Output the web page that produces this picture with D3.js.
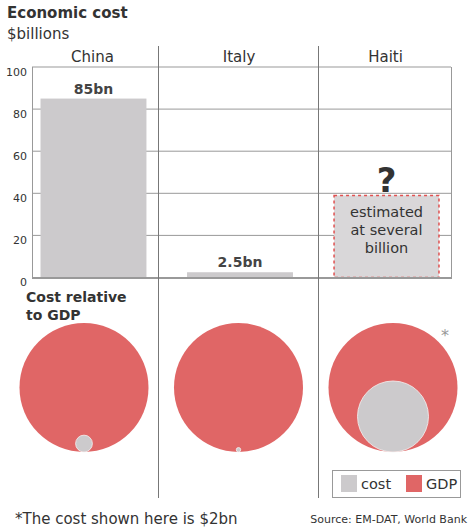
<!DOCTYPE html>
<html lang="en">
<head>
    <meta charset="UTF-8">
    <title>Economic cost</title>
    <script src="https://cdn.jsdelivr.net/npm/d3@7"></script>
    <style>
        body { margin: 0; padding: 0; background: #fff; font-family: "DejaVu Sans", Verdana, sans-serif; }
        svg text { fill: #333; }
        .tick-label { font-size: 11px; }
        .country { font-size: 15px; }
        .value { font-size: 14px; font-weight: bold; fill: #444; }
    </style>
</head>
<body>
<svg id="chart" width="470" height="531"></svg>
<script>
    // Donnees
    const countries = ["China", "Italy", "Haiti"];
    const costs = [85, 2.5, 39];          // $bn, Haiti = estimation
    const costLabels = ["85bn", "2.5bn", null];
    const circleCosts = [85, 2.5, 2];     // cout utilise pour les cercles
    const gdp = [4990, 2110, 6.6];        // PIB en $bn
    const yTicks = [0, 20, 40, 60, 80, 100];
    const legendItems = [
        { label: "cost", color: "#cccacc" },
        { label: "GDP", color: "#e06666" }
    ];

    const svg = d3.select("#chart");
    const grey = "#cccacc", red = "#e06666", lineCol = "#999";

    const plot = { left: 32, right: 451, top: 67, bottom: 277.5 };

    const y = d3.scaleLinear().domain([0, 100]).range([plot.bottom, plot.top]);
    const x = d3.scaleBand().domain(countries).range([20, 460]).paddingInner(0.277).paddingOuter(0.14);
    const cx = d3.scalePoint().domain(countries).range([84, 393]);
    const bigR = 64.5, circleBottom = 452;
    const r = d3.scaleSqrt().domain([0, 1]).range([0, bigR]);

    // Titres
    svg.append("text").attr("x", 7).attr("y", 18)
        .style("font-size", "15px").style("font-weight", "bold").text("Economic cost");
    svg.append("text").attr("x", 7).attr("y", 39)
        .style("font-size", "15px").text("$billions");

    // Quadrillage
    svg.selectAll(".grid").data(yTicks.filter(d => d > 0)).enter().append("line")
        .attr("x1", plot.left).attr("x2", plot.right)
        .attr("y1", d => y(d)).attr("y2", d => y(d))
        .attr("stroke", lineCol).attr("stroke-width", 1);
    svg.append("line").attr("x1", plot.left + 0.5).attr("x2", plot.left + 0.5)
        .attr("y1", plot.top).attr("y2", plot.bottom).attr("stroke", lineCol);
    svg.append("line").attr("x1", plot.right + 0.5).attr("x2", plot.right + 0.5)
        .attr("y1", plot.top).attr("y2", plot.bottom).attr("stroke", lineCol);

    svg.selectAll(".tick-label").data(yTicks).enter().append("text")
        .attr("class", "tick-label")
        .attr("x", 27).attr("y", d => y(d) + 8.5)
        .attr("text-anchor", "end").text(d => d);

    // Barres
    const bars = countries.map((c, i) => ({ country: c, cost: costs[i], label: costLabels[i] }));
    svg.selectAll(".bar").data(bars.filter(d => d.label)).enter().append("rect")
        .attr("x", d => x(d.country)).attr("width", x.bandwidth())
        .attr("y", d => y(d.cost)).attr("height", d => y(0) - y(d.cost))
        .attr("fill", grey);
    svg.selectAll(".value").data(bars.filter(d => d.label)).enter().append("text")
        .attr("class", "value").attr("text-anchor", "middle")
        .attr("x", d => x(d.country) + x.bandwidth() / 2)
        .attr("y", d => y(d.cost) - 5).text(d => d.label);

    // Haiti : estimation
    const haiti = bars[2];
    svg.append("rect")
        .attr("x", x(haiti.country) + 0.5).attr("width", x.bandwidth() - 1)
        .attr("y", y(haiti.cost)).attr("height", y(0) - y(haiti.cost))
        .attr("fill", "#d9d7d9").attr("stroke", "#e05050")
        .attr("stroke-width", 1.5).attr("stroke-dasharray", "3,3");
    const hx = x(haiti.country) + x.bandwidth() / 2;
    svg.append("text").attr("x", hx).attr("y", y(haiti.cost) - 3)
        .attr("text-anchor", "middle").style("font-size", "34px").style("font-weight", "bold")
        .text("?");
    ["estimated", "at several", "billion"].forEach((t, i) => {
        svg.append("text").attr("x", hx).attr("y", y(haiti.cost) + 22 + i * 18)
            .attr("text-anchor", "middle").style("font-size", "14.5px").text(t);
    });

    // Axe du bas
    svg.append("line").attr("x1", plot.left).attr("x2", plot.right + 1)
        .attr("y1", y(0) + 0.5).attr("y2", y(0) + 0.5)
        .attr("stroke", lineCol).attr("stroke-width", 2);

    // Separateurs de colonnes
    svg.selectAll(".sep").data([158.5, 318.5]).enter().append("line")
        .attr("x1", d => d).attr("x2", d => d).attr("y1", 46).attr("y2", 498)
        .attr("stroke", "#777").attr("stroke-width", 1);

    // Noms des pays
    svg.selectAll(".country").data(countries).enter().append("text")
        .attr("class", "country").attr("text-anchor", "middle")
        .attr("x", d => x(d) + x.bandwidth() / 2 - 1).attr("y", 62).text(d => d);

    // Cout relatif au PIB
    svg.append("text").attr("x", 26).attr("y", 302)
        .style("font-size", "14px").style("font-weight", "bold").text("Cost relative");
    svg.append("text").attr("x", 26).attr("y", 320)
        .style("font-size", "14px").style("font-weight", "bold").text("to GDP");

    const circles = countries.map((c, i) => ({ country: c, ratio: circleCosts[i] / gdp[i] }));
    svg.selectAll(".gdp").data(circles).enter().append("circle")
        .attr("cx", d => cx(d.country)).attr("cy", circleBottom - bigR).attr("r", r(1))
        .attr("fill", red);
    svg.selectAll(".cost").data(circles).enter().append("circle")
        .attr("cx", d => cx(d.country)).attr("cy", d => circleBottom - r(d.ratio))
        .attr("r", d => r(d.ratio))
        .attr("fill", grey).attr("stroke", "#f4f4f4").attr("stroke-width", 0.8);
    svg.append("text").attr("x", 445).attr("y", 341).attr("text-anchor", "middle")
        .style("font-size", "16px").style("fill", "#999").text("*");

    // Legende
    const legend = svg.append("g").attr("transform", "translate(332.5,470.5)");
    legend.append("rect").attr("width", 128).attr("height", 27)
        .attr("fill", "#fff").attr("stroke", lineCol);
    const li = legend.selectAll(".li").data(legendItems).enter().append("g")
        .attr("transform", (d, i) => `translate(${8.5 + i * 65},4.5)`);
    li.append("rect").attr("width", 16).attr("height", 17).attr("fill", d => d.color);
    li.append("text").attr("x", 20).attr("y", 14).style("font-size", "14.5px").text(d => d.label);

    // Notes
    svg.append("text").attr("x", 15).attr("y", 524)
        .style("font-size", "15px").text("*The cost shown here is $2bn");
    svg.append("text").attr("x", 467).attr("y", 523).attr("text-anchor", "end")
        .style("font-size", "11px").text("Source: EM-DAT, World Bank");
</script>
</body>
</html>
